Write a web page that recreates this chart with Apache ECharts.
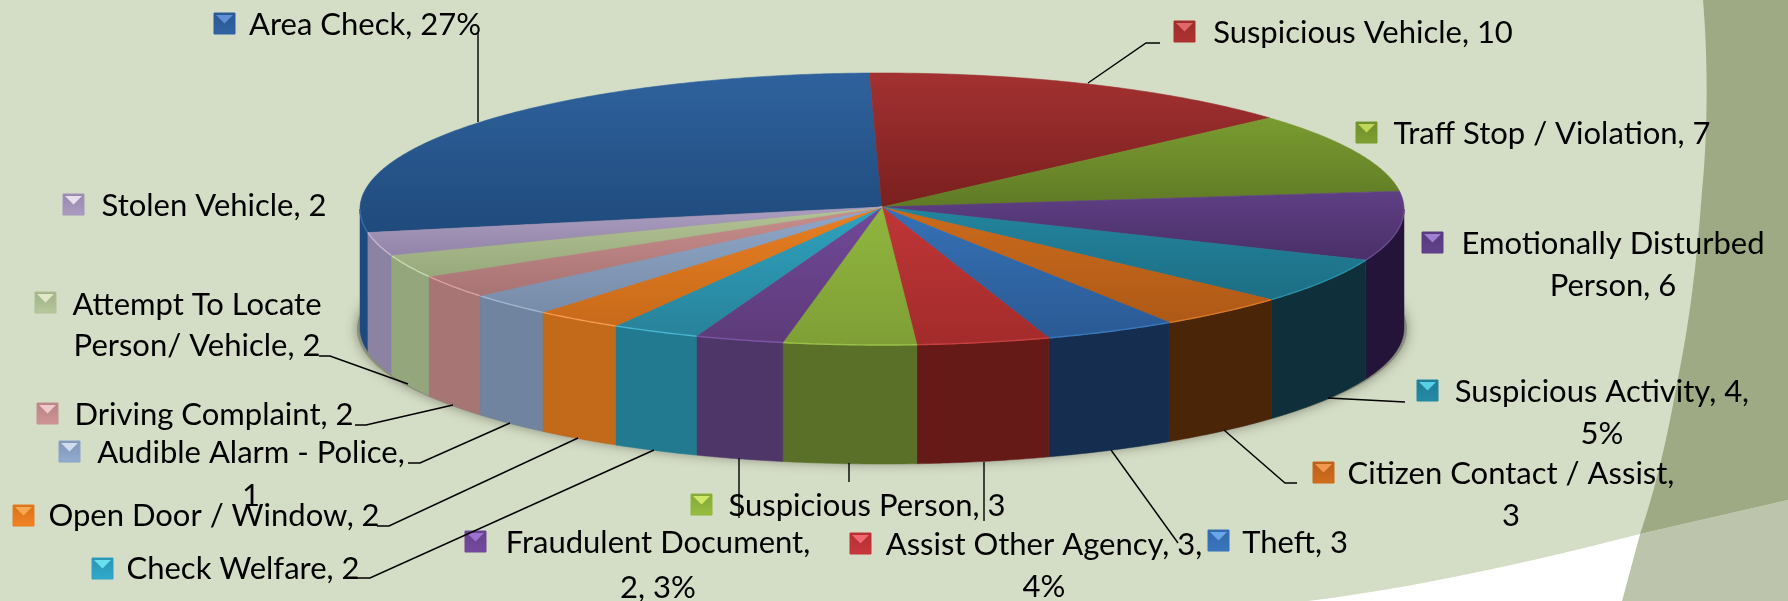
<!DOCTYPE html>
<html>
<head>
<meta charset="utf-8">
<style>html,body{margin:0;padding:0;background:#d4ddc5}#c{width:1788px;height:601px}</style>
<script src="https://cdn.jsdelivr.net/npm/echarts@6/dist/echarts.min.js"></script>
</head>
<body>
<div id="c"></div>
<script>
// ---- data ----
var categories = ['Area Check','Suspicious Vehicle','Traff Stop / Violation','Emotionally Disturbed Person','Suspicious Activity','Citizen Contact / Assist','Theft','Assist Other Agency','Suspicious Person','Fraudulent Document','Check Welfare','Open Door / Window','Audible Alarm - Police','Driving Complaint','Attempt To Locate Person/ Vehicle','Stolen Vehicle'];
var values = [20,10,7,6,4,3,3,3,3,2,2,2,2,2,2,2];
var labelLines = [['Area Check, 27%'],['Suspicious Vehicle, 10'],['Traff Stop / Violation, 7'],['Emotionally Disturbed','Person, 6'],['Suspicious Activity, 4,','5%'],['Citizen Contact / Assist,','3'],['Theft, 3'],['Assist Other Agency, 3,','4%'],['Suspicious Person, 3'],['Fraudulent Document,','2, 3%'],['Check Welfare, 2'],['Open Door / Window, 2'],['Audible Alarm - Police,','1'],['Driving Complaint, 2'],['Attempt To Locate','Person/ Vehicle, 2'],['Stolen Vehicle, 2']];

// ---- styles ----
var topLight = ['#2f629d','#a33131','#7a9b30','#5f3f84','#23849d','#cb6b1d','#3671b6','#c03637','#90b63e','#72489a','#2fa2bf','#e87f22','#90a7c9','#c98e8e','#b3c395','#ab9dbf'];
var topDark  = ['#1f4a7c','#7a1f1f','#5f7a25','#4a2f68','#1c6e84','#ae5916','#2a5a94','#a32b2b','#7f9f36','#5d3b78','#28829a','#c76a1a','#778ca8','#a87373','#98a97c','#9385a9'];
var sideColor = ['#1d4a80','#6b1a1a','#4f6423','#24143a','#0f303a','#4a2508','#152e50','#651a18','#5a7028','#4f3669','#217a90','#c2691a','#70849f','#a87575','#93a67c','#8c82a2'];
var rimColor = ['#3a6ca8','#aa3333','#88aa33','#6a4a90','#2a8ea8','#d87a28','#3a78bc','#c84040','#9ac048','#7c54a4','#48b4d0','#f59a50','#a0b4d0','#d8a0a0','#c8d8b0','#c0b4d0'];
var swatchColor = ['#2a5790','#9a2c2c','#6f8c2c','#553a7a','#207a92','#b85f1a','#3268a8','#b03034','#84a638','#66418c','#2a94b2','#d4721e','#8095b6','#b58283','#a0af88','#9688aa'];
var swatchTip = ['#5e8fd8','#e06868','#c0d858','#a080d0','#58d0e8','#f09a50','#68a8e8','#f06870','#d0e868','#a070d0','#68e0f0','#f8a850','#d0dcf0','#f0c8cc','#e0e8c8','#e8e0f0'];

// ---- layout ----
var CX = 882, CY = 209, APEX_Y = 207, RX = 522, RY = 136, DEPTH = 119, START_DEG = -100;
var FONT_SIZE = 31, FONT = FONT_SIZE + 'px Lato, "Open Sans", sans-serif';
var textPos = [[[365,25]],[[1363,33]],[[1552,134]],[[1613,244],[1613,286]],[[1602,392],[1602,434]],[[1511,474],[1511,516]],[[1295,543]],[[1044,545],[1044,587]],[[867,506]],[[658,543],[658,588]],[[243,569]],[[214,516]],[[251,453],[251,496]],[[214,415]],[[197,305],[197,346]],[[214,206]]];
var swatchPos = [[214,13],[1174,21],[1356,122],[1422,232],[1417,380],[1313,462],[1208,530],[850,533],[691,494],[465,531],[92,558],[13,505],[59,441],[37,403],[35,292],[63,194]];
var leaders = [
  [[478,33],[478,122]], [[1088,83],[1146,43],[1160,43]], null, null,
  [[1328,398],[1405,402]], [[1224,430],[1285,483],[1297,483]], [[1111,450],[1178,543]],
  [[984,462],[984,521]], [[849,463],[849,482]], [[739,458],[739,518]],
  [[654,450],[370,578],[357,578]], [[578,438],[389,526],[377,526]],
  [[510,423],[420,463],[408,463]], [[453,405],[366,425],[355,425]], [[408,384],[330,356],[319,356]], null
];

function cubic(p0,p1,p2,p3){ var r=[]; for(var j=0;j<=24;j++){var t=j/24,u=1-t; r.push([u*u*u*p0[0]+3*u*u*t*p1[0]+3*u*t*t*p2[0]+t*t*t*p3[0],u*u*u*p0[1]+3*u*u*t*p1[1]+3*u*t*t*p2[1]+t*t*t*p3[1]]);} return r; }
var darkBand = [].concat(
  cubic([1703,0],[1708,60],[1708,130],[1702,191]),
  cubic([1702,191],[1697,260],[1690,320],[1677,383]),
  cubic([1677,383],[1667,440],[1655,490],[1640,534]),
  [[1788,500],[1788,0]]);
var greyBand = [[1640,534],[1788,500],[1788,601],[1622,601]];
var whiteBand = cubic([1308,601],[1400,590],[1520,565],[1640,534]).concat([[1622,601]]);

var total = values.reduce(function(a,b){return a+b;},0);
function startAngle(i){ var s=0; for(var k=0;k<i;k++) s+=values[k]; return START_DEG + s/total*360; }
function pt(deg, dy){ var t=deg*Math.PI/180; return [CX+RX*Math.sin(t), CY-RY*Math.cos(t)+(dy||0)]; }
function arcPts(a,b,dy){ var p=[], n=Math.max(2,Math.ceil(Math.abs(b-a)/0.5)); for(var j=0;j<=n;j++) p.push(pt(a+(b-a)*j/n,dy)); return p; }

function renderPie(params, api){
  var i = params.dataIndex, v = api.value(0);
  var a0 = startAngle(i), a1 = a0 + v/total*360;
  var children = [];
  var rims = [];
  [0,360].forEach(function(off){
    var lo = Math.max(a0+off,90), hi = Math.min(a1+off,270);
    if (hi > lo){
      children.push({type:'polygon',shape:{points:arcPts(lo,hi,0).concat(arcPts(hi,lo,DEPTH))},style:{fill:sideColor[i],stroke:sideColor[i],lineWidth:0.5}});
      rims.push(arcPts(lo,hi,0));
    }
  });
  var face = [[CX,APEX_Y]].concat(arcPts(a0,a1,0));
  var fill = new echarts.graphic.LinearGradient(0,0,0,1,[{offset:0,color:topLight[i]},{offset:1,color:topDark[i]}]);
  children.push({type:'polygon',shape:{points:face},style:{fill:fill,stroke:fill,lineWidth:0.6}});
  rims.forEach(function(r){
    children.push({type:'polyline',shape:{points:r},style:{fill:null,stroke:rimColor[i],lineWidth:1.4}});
  });
  return {type:'group',children:children};
}

function renderLabel(params){
  var i = params.dataIndex, s = swatchPos[i], w = 21, children = [];
  children.push({type:'rect',shape:{x:s[0],y:s[1],width:w,height:w},style:{
    fill:new echarts.graphic.LinearGradient(0,0,0,1,[{offset:0,color:swatchColor[i]},{offset:1,color:echarts.color.lift(swatchColor[i],-0.15)}]),
    stroke:echarts.color.lift(swatchColor[i],-0.1),lineWidth:1}});
  children.push({type:'polygon',shape:{points:[[s[0]+2,s[1]+2],[s[0]+w-2,s[1]+2],[s[0]+w/2,s[1]+w*0.5]]},style:{fill:swatchTip[i]}});
  labelLines[i].forEach(function(line,k){
    children.push({type:'text',style:{text:line,x:textPos[i][k][0],y:textPos[i][k][1],font:FONT,fill:'#000',align:'center',verticalAlign:'middle'}});
  });
  if (leaders[i]) children.push({type:'polyline',shape:{points:leaders[i]},style:{fill:null,stroke:'#000',lineWidth:1.4}});
  return {type:'group',children:children};
}

var items = categories.map(function(n,i){return {name:n,value:values[i]};});
var chart = echarts.init(document.getElementById('c'),null,{renderer:'canvas'});
chart.setOption({
  animation:false,
  backgroundColor:'#d4ddc5',
  tooltip:{show:false},
  graphic:{elements:[
    {type:'polygon',z:0,silent:true,shape:{points:darkBand},style:{fill:'#9eaa84'}},
    {type:'polygon',z:0,silent:true,shape:{points:greyBand},style:{fill:'#bcc5ac'}},
    {type:'polygon',z:0,silent:true,shape:{points:whiteBand},style:{fill:'#fff'}},
    {type:'ellipse',z:1,silent:true,shape:{cx:CX,cy:CY+120,rx:RX+3,ry:RY-2},style:{fill:'#8a8e7c',shadowBlur:12,shadowColor:'rgba(80,80,70,0.6)'}}
  ]},
  series:[
    {type:'custom',coordinateSystem:'none',z:3,silent:true,data:items,renderItem:renderPie},
    {type:'custom',coordinateSystem:'none',z:4,silent:true,data:items,renderItem:renderLabel}
  ]
});
</script>
</body>
</html>
